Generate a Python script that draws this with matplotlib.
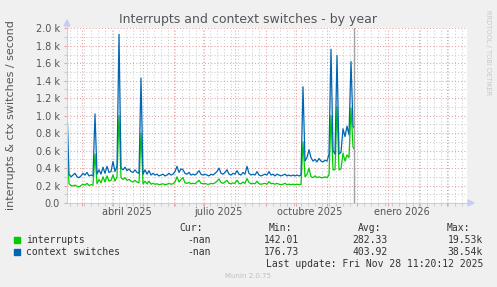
import numpy as np
import matplotlib
matplotlib.use("Agg")
import matplotlib.pyplot as plt
import matplotlib.dates as mdates
from matplotlib.patches import Polygon, Rectangle
from matplotlib.lines import Line2D

W, H = 497, 287

# data: one value every 2 days from 2025-02-14, last sample on 2025-11-28
start = np.datetime64("2025-02-14")
now = np.datetime64("2025-11-28T11:20")

ctx = [1100, 330, 300, 320, 340, 300, 290, 310, 340, 320, 350, 310, 320, 310,
       1020, 330, 380, 330, 410, 340, 420, 350, 360, 475, 360, 420,
       1930, 400, 380, 410, 370, 390, 360, 350, 380, 350, 340,
       1430, 330, 380, 330, 370, 320, 340, 320, 330, 310, 320, 330, 310, 320, 340, 320, 330,
       360, 420, 350, 390, 380, 340, 330, 350, 320, 330, 320, 340, 370, 330, 320, 330,
       320, 310, 330, 320, 340, 360,
       400, 340, 330, 350, 380, 330, 320, 340, 330, 370, 330, 320, 350, 330, 420, 340,
       320, 330, 320, 360, 320, 310, 320, 330, 320, 360, 320, 330, 310, 330, 320, 310,
       320, 330, 310, 320, 310, 320, 310, 320, 310, 320,
       1330, 480, 520, 610, 520, 480, 500, 470, 510, 480, 470, 490, 480, 560,
       1760, 600, 560, 1690, 560, 580, 850, 760, 880, 780, 1620, 880, 860]

interrupts = [700, 220, 200, 195, 205, 190, 185, 200, 215, 205, 225, 200, 210, 205,
              560, 220, 270, 230, 300, 240, 310, 250, 260, 320, 250, 300,
              1000, 290, 270, 290, 260, 270, 250, 240, 260, 240, 230,
              800, 220, 250, 220, 250, 215, 225, 215, 220, 210, 215, 220, 210, 215, 225, 215, 220,
              240, 300, 240, 270, 290, 230, 225, 235, 220, 225, 220, 240, 260, 225, 220, 225,
              215, 215, 225, 220, 230, 250,
              275, 235, 225, 240, 260, 225, 220, 230, 225, 260, 225, 220, 240, 225, 280, 235,
              220, 225, 220, 250, 220, 215, 220, 225, 215, 245, 220, 225, 215, 225, 215, 210,
              215, 225, 210, 215, 210, 215, 210, 215, 210, 215,
              700, 300, 330, 400, 300, 290, 310, 290, 300, 290, 290, 300, 290, 320,
              1000, 380, 380, 1100, 380, 390, 570, 480, 550, 520, 1090, 640, 620]

series = ["interrupts", "context switches"]
colors = ["#00CC00", "#0066B3"]
cur = ["-nan", "-nan"]
mins = ["142.01", "176.73"]
avgs = ["282.33", "403.92"]
maxs = ["19.53k", "38.54k"]

quarter_labels = ["abril 2025", "julio 2025", "octubre 2025", "enero 2026"]
quarter_dates = ["2025-04-15", "2025-07-15", "2025-10-15", "2026-01-15"]

n = len(ctx)
dates = start + np.arange(n) * np.timedelta64(2, "D")
dates[-1] = np.datetime64("2025-11-28")
x = mdates.date2num(dates.astype("datetime64[s]").astype(object))


def fx(px):
    return px / W


def fy(py):
    return 1 - py / H


fig = plt.figure(figsize=(W / 100, H / 100), dpi=100, facecolor="#F0F0F0")
ax = fig.add_axes([fx(67), fy(203), 400 / W, 175 / H], facecolor="white")

xmin = mdates.date2num(np.datetime64("2025-02-14T00:00").astype(object))
xmax = xmin + 400
ax.set_xlim(xmin, xmax)
ax.set_ylim(0, 2000 * 175 / 174.7)

ax.plot(x, interrupts, color=colors[0], lw=0.9, zorder=3)
ax.plot(x, ctx, color=colors[1], lw=0.9, zorder=4)
ax.axvline(mdates.date2num(now.astype(object)), color="#A0A0A0", lw=1.0, zorder=5)

# grid
months = [mdates.date2num(np.datetime64(f"{y}-{m:02d}-01").astype(object))
          for y, m in [(2025, mm) for mm in range(3, 13)] + [(2026, 1), (2026, 2), (2026, 3)]]
mondays = np.arange(mdates.date2num(np.datetime64("2025-02-17").astype(object)), xmax, 7)
ax.set_xticks(months)
ax.set_xticks(mondays, minor=True)
ax.set_xticklabels([])
ax.set_yticks(range(0, 2001, 200))
ax.set_yticks(range(100, 2000, 200), minor=True)
ax.set_yticklabels(["0.0"] + [f"{v / 1000:.1f} k" for v in range(200, 2001, 200)])
ax.grid(which="major", color="#E6A0A0", linestyle=(0, (1, 2)), lw=0.75)
ax.grid(which="minor", color="#CCCCCC", linestyle=(0, (1, 2)), lw=0.75)
ax.set_axisbelow(True)
ax.tick_params(which="major", length=2.2, width=0.75, color="#E6A0A0", pad=3,
               labelsize=7, labelcolor="#555555")
ax.tick_params(which="minor", length=2.2, width=0.75, color="#CCCCCC")
for s in ax.spines.values():
    s.set_visible(False)

for lab, d in zip(quarter_labels, quarter_dates):
    ax.text(mdates.date2num(np.datetime64(d).astype(object)), fy(212), lab,
            transform=ax.get_xaxis_transform().__class__(ax.transData, fig.transFigure),
            ha="center", va="center", fontsize=7, color="#555555")

# axis lines with arrows
axc = "#C8CCF4"
fig.add_artist(Line2D([fx(67), fx(469)], [fy(203), fy(203)], color=axc, lw=0.8))
fig.add_artist(Line2D([fx(67), fx(67)], [fy(203), fy(25)], color=axc, lw=0.8))
fig.add_artist(Polygon([[fx(468), fy(200)], [fx(474), fy(203)], [fx(468), fy(206)]],
                       closed=True, color=axc, transform=fig.transFigure))
fig.add_artist(Polygon([[fx(64), fy(26)], [fx(67), fy(20)], [fx(70), fy(26)]],
                       closed=True, color=axc, transform=fig.transFigure))

fig.text(fx(248), fy(19), "Interrupts and context switches - by year", ha="center",
         va="center", fontsize=9.0, color="#555555")
fig.text(fx(11), fy(115), "interrupts & ctx switches / second", rotation=90,
         ha="center", va="center", fontsize=8.0, color="#555555")
fig.text(fx(488), fy(53), "RRDTOOL / TOBI OETIKER", rotation=270, ha="center",
         va="center", fontsize=4.8, color="#C8C8C8")

# legend
mono = dict(family="DejaVu Sans Mono", fontsize=7, color="#333333", va="center")
for lab, px in zip(["Cur:", "Min:", "Avg:", "Max:"], [203, 292, 381, 470]):
    fig.text(fx(px), fy(228), lab, ha="right", **mono)
for i, (name, c) in enumerate(zip(series, colors)):
    yy = 240 + 12 * i
    fig.add_artist(Rectangle((fx(14), fy(yy + 3)), 6 / W, 6 / H, color=c,
                             transform=fig.transFigure))
    fig.text(fx(26), fy(yy), name, ha="left", **mono)
    fig.text(fx(211), fy(yy), cur[i], ha="right", **mono)
    fig.text(fx(299), fy(yy), mins[i], ha="right", **mono)
    fig.text(fx(388), fy(yy), avgs[i], ha="right", **mono)
    fig.text(fx(483), fy(yy), maxs[i], ha="right", **mono)
fig.text(fx(483), fy(264), "Last update: Fri Nov 28 11:20:12 2025", ha="right", **mono)
fig.text(fx(248), fy(276), "Munin 2.0.75", ha="center", va="center", fontsize=5,
         color="#C0C0C0")

fig.savefig("out.png", dpi=100, facecolor=fig.get_facecolor())
